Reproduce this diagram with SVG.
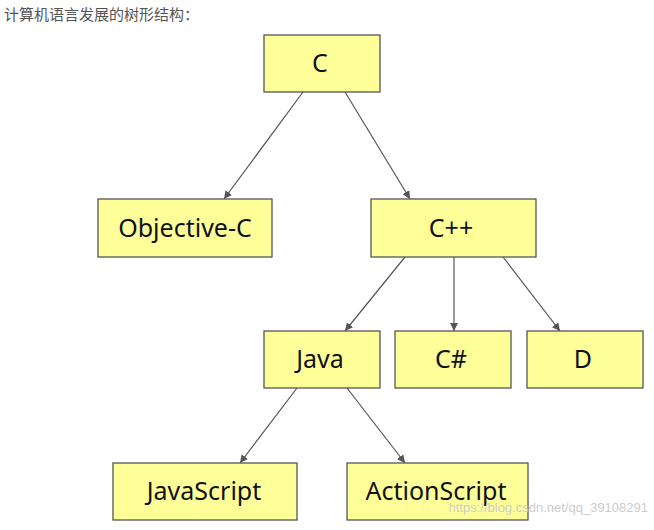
<svg xmlns="http://www.w3.org/2000/svg" width="654" height="530" viewBox="0 0 654 530">
<style>
.n{fill:#ffff99;stroke:#555;stroke-width:1.3}
.t{font-family:"Noto Sans","DejaVu Sans",sans-serif;font-size:25px;fill:#111;text-anchor:middle;dominant-baseline:central}
.e{stroke:#555;stroke-width:1.2;fill:none;marker-end:url(#a)}
</style>
<defs><marker id="a" viewBox="0 0 10 10" refX="10" refY="5" markerWidth="8" markerHeight="8" orient="auto" markerUnits="userSpaceOnUse"><path d="M0,0 L10,5 L0,10 z" fill="#555"/></marker></defs>
<rect width="654" height="530" fill="#fff"/>
<text x="4" y="20" font-family="'Noto Sans CJK SC',sans-serif" font-size="15" fill="#555">计算机语言发展的树形结构：</text>
<g id="edges">
<line class="e" x1="303" y1="92" x2="224" y2="199"/>
<line class="e" x1="345" y1="92" x2="410" y2="199"/>
<line class="e" x1="405" y1="257" x2="345" y2="331"/>
<line class="e" x1="454" y1="257" x2="454" y2="331"/>
<line class="e" x1="503" y1="257" x2="560" y2="331"/>
<line class="e" x1="297" y1="388" x2="240" y2="463"/>
<line class="e" x1="347" y1="388" x2="405" y2="463"/>
</g>
<g id="c"><rect class="n" x="264" y="35" width="116" height="57"/><text class="t" x="320" y="62">C</text></g>
<g id="objc"><rect class="n" x="98" y="199" width="174" height="58"/><text class="t" x="185" y="227">Objective-C</text></g>
<g id="cpp"><rect class="n" x="371" y="199" width="165" height="58"/><text class="t" x="451" y="227">C++</text></g>
<g id="java"><rect class="n" x="264" y="331" width="116" height="57"/><text class="t" x="320" y="358">Java</text></g>
<g id="cs"><rect class="n" x="395" y="331" width="116" height="57"/><text class="t" x="451" y="358">C#</text></g>
<g id="d"><rect class="n" x="527" y="331" width="116" height="57"/><text class="t" x="583" y="358">D</text></g>
<g id="js"><rect class="n" x="113" y="463" width="184" height="57"/><text class="t" x="204" y="490">JavaScript</text></g>
<g id="as"><rect class="n" x="347" y="463" width="181" height="57"/><text class="t" x="436" y="490">ActionScript</text></g>
<text x="648" y="512" text-anchor="end" font-family="'Liberation Sans',sans-serif" font-size="13" fill="#ccc">https://blog.csdn.net/qq_39108291</text>
</svg>
